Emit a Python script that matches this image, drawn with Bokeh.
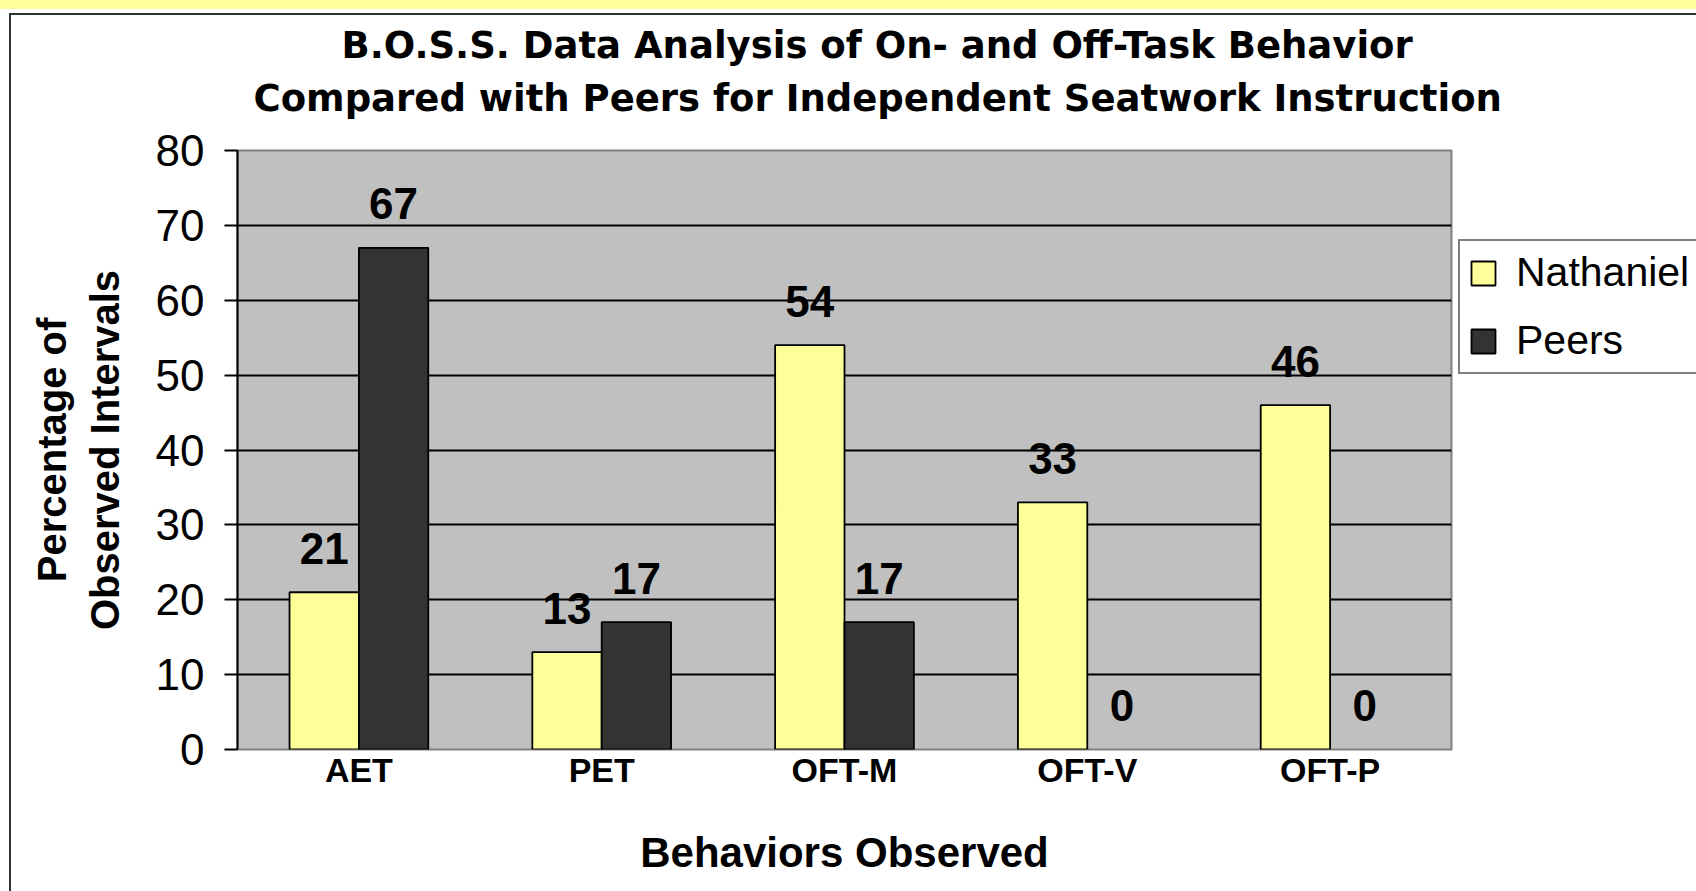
from bokeh.plotting import figure
from bokeh.models import (ColumnDataSource, Title, Legend, LegendItem,
                          FixedTicker, Range1d, Div)
from bokeh.layouts import column
from bokeh.transform import dodge
from bokeh.core.properties import value
from bokeh.embed import file_html
from bokeh.resources import INLINE

# ---- data ----
categories = ["AET", "PET", "OFT-M", "OFT-V", "OFT-P"]
nathaniel = [21, 13, 54, 33, 46]
peers = [67, 17, 17, 0, 0]
series_names = ["Nathaniel", "Peers"]
y_ticks = [0, 10, 20, 30, 40, 50, 60, 70, 80]
title_line1 = "B.O.S.S. Data Analysis of On- and Off-Task Behavior"
title_line2 = "Compared with Peers for Independent Seatwork Instruction"
x_title = "Behaviors Observed"
y_title = "Percentage of\nObserved Intervals"

src = ColumnDataSource(dict(
    cat=categories,
    nat=nathaniel,
    peers=peers,
    nat_txt=[str(v) for v in nathaniel],
    peers_txt=[str(v) for v in peers],
    nat_la=[1 if v else 0 for v in nathaniel],
    peers_la=[1 if v else 0 for v in peers],
))

FONT = "Liberation Sans"

p = figure(x_range=categories, y_range=Range1d(0, 80),
           frame_width=1214, frame_height=599,
           min_border_left=237, min_border_right=245,
           min_border_top=150, min_border_bottom=141,
           output_backend="svg", toolbar_location=None, title=None)

p.background_fill_color = "#C0C0C0"
p.border_fill_color = "white"
p.outline_line_color = "#808080"
p.outline_line_width = 2

# grid
p.xgrid.grid_line_color = None
p.ygrid.grid_line_color = "black"
p.ygrid.grid_line_width = 2
p.yaxis.ticker = FixedTicker(ticks=y_ticks)

# bars
bw = 1 / 3.5
r1 = p.vbar(x=dodge("cat", -bw / 2, range=p.x_range), top="nat", width=bw,
            source=src, fill_color="#FFFF99", line_color="black",
            line_width=1.8, line_alpha="nat_la")
r2 = p.vbar(x=dodge("cat", bw / 2, range=p.x_range), top="peers", width=bw,
            source=src, fill_color="#333333", line_color="black",
            line_width=1.8, line_alpha="peers_la")

# value labels
for col, txt, off in (("nat", "nat_txt", -bw / 2), ("peers", "peers_txt", bw / 2)):
    p.text(x=dodge("cat", off, range=p.x_range), y=col, text=txt, source=src,
           text_align="center", text_baseline="alphabetic", y_offset=-44,
           text_font=value(FONT), text_font_style="bold",
           text_font_size="44px", text_color="black")

# axes
p.yaxis.axis_line_color = "black"
p.yaxis.axis_line_width = 2
p.yaxis.major_tick_line_color = "black"
p.yaxis.major_tick_line_width = 2
p.yaxis.major_tick_out = 13
p.yaxis.major_tick_in = 0
p.yaxis.minor_tick_line_color = None
p.yaxis.major_label_standoff = 20
p.yaxis.major_label_text_font = FONT
p.yaxis.major_label_text_font_size = "44px"
p.yaxis.major_label_text_color = "black"
p.yaxis.axis_label = y_title
p.yaxis.axis_label_text_font = FONT
p.yaxis.axis_label_text_font_style = "bold"
p.yaxis.axis_label_text_font_size = "40px"
p.yaxis.axis_label_text_color = "black"
p.yaxis.axis_label_standoff = 26

p.xaxis.axis_line_color = None
p.xaxis.major_tick_line_color = None
p.xaxis.major_tick_out = 0
p.xaxis.major_tick_in = 0
p.xaxis.major_label_standoff = 1
p.xaxis.major_label_text_font = FONT
p.xaxis.major_label_text_font_style = "bold"
p.xaxis.major_label_text_font_size = "34px"
p.xaxis.major_label_text_color = "black"
p.xaxis.axis_label = x_title
p.xaxis.axis_label_text_font = FONT
p.xaxis.axis_label_text_font_style = "bold"
p.xaxis.axis_label_text_font_size = "42px"
p.xaxis.axis_label_text_color = "black"
p.xaxis.axis_label_standoff = 37

# titles (first added sits closest to the frame)
spacer = Title(text=" ", standoff=24, text_font_size="1px")
t2 = Title(text=title_line2, align="left", offset=16, standoff=8,
           text_font="DejaVu Sans", text_font_style="bold",
           text_font_size="37px", text_color="black")
t1 = Title(text=title_line1, align="left", offset=104, standoff=8,
           text_font="DejaVu Sans", text_font_style="bold",
           text_font_size="37px", text_color="black")
p.add_layout(spacer, "above")
p.add_layout(t2, "above")
p.add_layout(t1, "above")

# legend (in the right-hand panel so it is not clipped to the plot area)
legend = Legend(items=[LegendItem(label=series_names[0], renderers=[r1]),
                       LegendItem(label=series_names[1], renderers=[r2])],
                location=(7, 375))
legend.border_line_color = "black"
legend.border_line_width = 2
legend.background_fill_color = "white"
legend.background_fill_alpha = 1
legend.label_text_font = FONT
legend.label_text_font_size = "41px"
legend.label_text_color = "black"
legend.glyph_width = 30
legend.glyph_height = 30
legend.label_standoff = 18
legend.padding = 8
legend.spacing = 21
legend.margin = 0
p.add_layout(legend, "right")

# page decoration: yellow band on top and the chart-area border
deco_html = (
    '<div style="position:fixed;left:0;top:0;width:1696px;height:9px;'
    'background:#FFFF99;z-index:5"></div>'
    '<div style="position:fixed;left:9px;top:13px;width:1800px;height:1000px;'
    'border-left:2px solid #333;border-top:2px solid #333;z-index:5;'
    'pointer-events:none"></div>'
)
deco = Div(text=deco_html, width=1, height=1)

p.width = 1696
p.height = 890
layout = column(p, deco)

open("out.html", "w").write(file_html(layout, INLINE))
